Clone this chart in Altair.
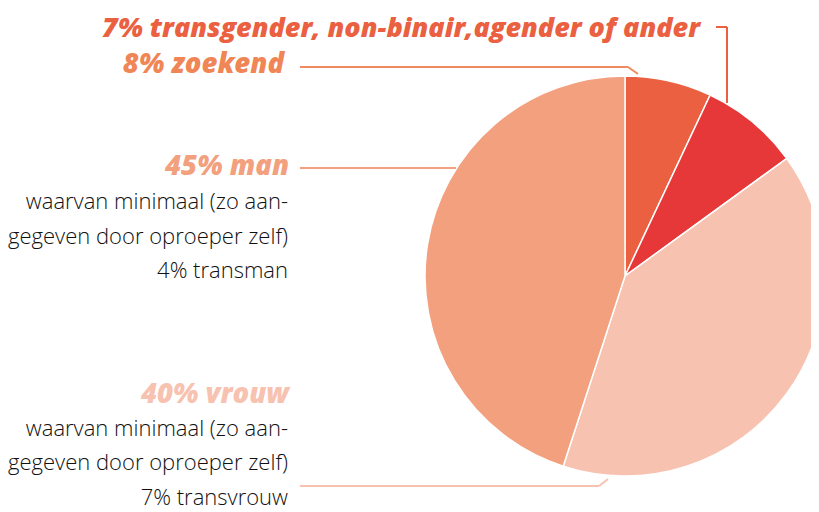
import altair as alt
import pandas as pd

# data
categories = ["transgender, non-binair, agender of ander", "zoekend", "vrouw", "man"]
shares = [7, 8, 40, 45]
slice_colors = ["#EA6041", "#E63838", "#F7C2B0", "#F3A07E"]

header_7 = "7% transgender, non-binair,agender of ander"
header_8 = "8% zoekend"
header_man = "45% man"
header_vrouw = "40% vrouw"
body_man = ["waarvan minimaal (zo aan-", "gegeven door oproeper zelf)", "4% transman"]
body_vrouw = ["waarvan minimaal (zo aan-", "gegeven door oproeper zelf)", "7% transvrouw"]

OFFX = 8
OFFY = 8


def px(v):
    return v - OFFX


def py(v):
    return v - OFFY


df = pd.DataFrame({"categorie": categories, "aandeel": shares, "volgorde": list(range(len(categories)))})

pie = alt.Chart(df).mark_arc(outerRadius=200, stroke="white", strokeWidth=1.5).encode(
    theta=alt.Theta("aandeel:Q", stack=True),
    order=alt.Order("volgorde:Q"),
    color=alt.Color("categorie:N", scale=alt.Scale(domain=categories, range=slice_colors), legend=None),
    x=alt.value(px(625)),
    y=alt.value(py(276)),
)

base = alt.Chart(pd.DataFrame({"d": [0]}))

HEAD_FONT = "Open Sans"


def head(text, x, y, color, size):
    return base.mark_text(
        text=text, align="right", baseline="alphabetic", font=HEAD_FONT,
        fontWeight=800, fontStyle="italic", fontSize=size, color=color,
    ).encode(x=alt.value(px(x)), y=alt.value(py(y)))


def body(text, x, y):
    return base.mark_text(
        text=text, align="right", baseline="alphabetic", font="Open Sans",
        fontWeight=300, fontSize=22, color="#111111",
    ).encode(x=alt.value(px(x)), y=alt.value(py(y)))


def seg(x1, y1, x2, y2, color):
    return base.mark_rule(color=color, strokeWidth=2).encode(
        x=alt.value(px(x1)), y=alt.value(py(y1)), x2=alt.value(px(x2)), y2=alt.value(py(y2))
    )


layers = [pie]
# connector lines
c7 = "#EA6041"
c8 = "#F08A5C"
cman = "#F3A07E"
cvr = "#F7C2B0"
layers += [
    seg(716, 27, 727, 27, c7), seg(727, 27, 727, 103, c7),
    seg(300, 67, 628, 67, c8), seg(628, 67, 638, 74, c8),
    seg(300, 168, 456, 168, cman),
    seg(300, 486, 599, 486, cvr), seg(599, 486, 608, 479, cvr),
]
layers += [
    head(header_7, 700, 36.5, c7, 27),
    head(header_8, 284, 73, "#F08656", 27.5),
    head(header_man, 289, 175, cman, 27.5),
    head(header_vrouw, 289, 403, cvr, 27.5),
]
for i, t in enumerate(body_man):
    layers.append(body(t, 288, 209 + 34.5 * i))
for i, t in enumerate(body_vrouw):
    layers.append(body(t, 288, 436 + 34.3 * i))

chart = alt.layer(*layers).properties(
    width=803, height=504, padding=0, autosize=alt.AutoSizeParams(type="none")
).configure_view(stroke=None)

chart.save("out.html", embed_options={"renderer": "svg", "actions": False})
